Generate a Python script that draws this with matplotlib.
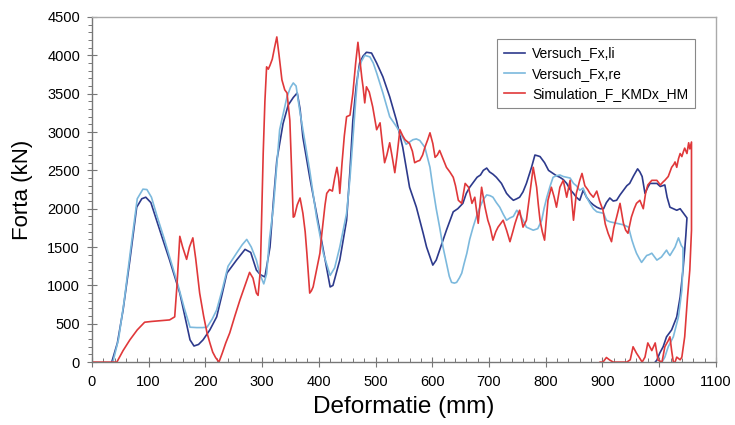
import matplotlib
matplotlib.use("Agg")
import matplotlib.pyplot as plt
from matplotlib.ticker import MultipleLocator

plt.rcParams['font.family'] = ['Liberation Sans', 'DejaVu Sans']

li_x = [35,45,55,67,79,88,95,104,114,125,137,155,165,173,180,188,196,208,220,230,238,255,270,280,290,297,305,314,320,326,337,346,355,362,367,372,384,396,408,420,425,437,449,455,460,466,472,478,484,493,502,513,525,537,548,560,572,584,590,596,601,607,613,625,637,645,654,660,666,679,685,690,696,701,707,713,722,731,737,743,749,754,760,766,775,781,786,790,798,805,813,819,825,831,837,843,849,854,860,866,872,878,884,890,896,902,907,913,919,925,931,937,943,948,955,962,966,970,975,980,984,990,996,1002,1006,1010,1014,1019,1025,1031,1037,1041,1045,1049,1047,1045,1042,1037,1031,1022,1013,1007,1001,996,993]
li_y = [0,250,680,1330,2020,2130,2150,2080,1850,1600,1330,900,560,290,210,230,290,420,590,900,1160,1330,1470,1430,1200,1140,1110,1500,2100,2630,3110,3350,3450,3510,3300,2930,2410,1940,1460,980,1000,1330,1850,2500,3150,3600,3900,3990,4040,4030,3900,3720,3460,3150,2800,2280,2020,1680,1500,1370,1265,1330,1460,1720,1960,2000,2070,2200,2280,2410,2440,2500,2530,2480,2450,2410,2330,2200,2150,2110,2130,2150,2220,2330,2540,2700,2690,2680,2600,2500,2460,2430,2410,2380,2330,2250,2200,2150,2110,2240,2150,2090,2050,2020,2000,2000,2080,2140,2100,2110,2180,2240,2300,2330,2430,2520,2480,2420,2200,2280,2330,2330,2330,2290,2300,2310,2150,2020,2000,1980,2000,1960,1920,1880,1650,1460,1200,850,590,420,330,200,117,26,0]

re_x = [37,47,57,68,80,90,97,105,115,127,140,152,163,173,185,195,203,212,220,230,240,255,265,273,281,290,296,303,308,313,320,331,344,350,355,360,366,372,384,396,408,420,428,437,449,455,460,465,469,475,481,490,496,502,513,525,537,548,554,560,566,572,578,587,596,601,607,613,619,625,630,634,639,643,648,652,656,661,666,672,678,684,690,696,702,707,713,719,725,731,737,743,749,755,760,766,772,778,786,793,797,802,808,813,819,825,831,837,843,849,854,860,866,872,878,884,890,896,902,907,913,919,925,931,937,946,952,956,960,965,969,974,978,982,987,992,996,1000,1004,1009,1013,1016,1019,1024,1028,1031,1034,1037,1039,1042,1042,1040,1034,1025,1016,1010,1005]
re_y = [0,300,800,1450,2130,2255,2250,2150,1900,1620,1300,1000,700,455,450,450,455,560,680,950,1250,1420,1530,1600,1500,1330,1150,1020,1150,1600,2020,3030,3460,3580,3640,3600,3300,3030,2500,1890,1420,1130,1230,1500,1940,2400,2900,3400,3770,3920,4000,3980,3900,3770,3510,3200,3070,2930,2840,2870,2900,2910,2890,2800,2540,2280,2000,1760,1500,1290,1120,1040,1030,1040,1100,1160,1280,1420,1600,1760,1900,2020,2120,2180,2170,2150,2080,2020,1930,1850,1880,1900,1980,1920,1850,1760,1740,1720,1740,1850,2000,2150,2300,2410,2430,2440,2420,2410,2400,2330,2300,2240,2270,2150,2070,2000,1960,1950,1940,1850,1830,1820,1810,1800,1790,1760,1590,1500,1420,1350,1300,1350,1390,1400,1420,1370,1330,1350,1370,1420,1460,1420,1390,1450,1500,1560,1620,1560,1520,1490,1290,940,590,330,200,65,0]

sim_x = [0,20,44,55,67,80,93,105,120,137,146,150,155,160,167,172,178,183,190,197,203,208,213,218,224,230,236,243,252,261,270,278,284,290,293,297,302,305,308,311,314,318,322,326,330,335,340,344,349,352,355,357,362,367,372,376,379,382,384,387,390,396,402,405,408,411,414,419,424,428,432,435,437,441,445,449,455,460,465,469,473,476,478,481,484,489,495,502,508,512,516,520,525,530,534,538,543,548,552,560,565,569,574,578,583,587,592,596,601,605,609,613,619,625,631,637,641,646,652,658,664,670,675,681,687,693,698,702,707,712,716,720,725,731,737,742,746,750,754,760,766,772,778,784,787,790,794,798,804,810,815,819,825,831,837,843,846,849,854,860,864,869,874,878,884,890,895,901,905,910,916,920,925,931,937,941,945,951,956,960,966,972,976,980,987,996,1002,1007,1010,1016,1019,1022,1026,1028,1031,1034,1037,1040,1043,1045,1049,1052,1054,1057,1057,1054,1050,1045,1040,1037,1031,1028,1025,1022,1019,1016,1010,1005,998,993,987,980,975,970,965,960,954,949,943,930,919,913,907,901,896]
sim_y = [0,0,0,150,290,420,520,530,540,550,590,1000,1640,1500,1340,1500,1620,1350,900,600,380,250,130,60,0,120,250,380,600,810,1000,1170,1095,900,870,1200,2720,3400,3850,3820,3870,3950,4100,4240,4000,3680,3550,3510,3150,2500,1890,1900,2050,2140,1940,1700,1420,1100,900,930,980,1200,1420,1650,1850,2050,2200,2250,2230,2400,2540,2400,2200,2600,2950,3200,3220,3500,3900,4170,3900,3700,3590,3380,3590,3520,3330,3030,3120,2850,2600,2700,2860,2650,2470,2700,3030,2950,2900,2850,2750,2600,2620,2630,2700,2800,2900,2990,2850,2670,2700,2760,2650,2540,2480,2410,2300,2110,2070,2330,2280,2070,2150,1810,2280,2020,1850,1760,1590,1700,1760,1800,1850,1720,1570,1700,1810,1900,1980,1760,1850,2200,2540,2280,2050,1850,1700,1590,2110,2280,2150,2020,2280,2370,2150,2370,2100,1850,2200,2370,2460,2300,2250,2200,2150,2230,2100,1980,1800,1680,1570,1750,1890,2070,1810,1720,1680,1890,2000,2070,2110,2000,2200,2310,2370,2370,2310,2350,2370,2420,2480,2540,2580,2610,2540,2650,2720,2680,2750,2790,2720,2860,2780,2870,1720,1200,850,330,65,30,65,0,0,150,330,280,200,0,26,250,150,250,65,0,60,117,200,30,0,0,0,26,60,0,0]

series_labels = ['Versuch_Fx,li', 'Versuch_Fx,re', 'Simulation_F_KMDx_HM']
series_colors = ['#2d3a8c', '#7cb9dd', '#e0383a']
x_ticks = list(range(0, 1101, 100))
y_ticks = list(range(0, 4501, 500))

fig = plt.figure(figsize=(7.35, 4.25), dpi=100)
ax = fig.add_axes([0.125, 0.148, 0.849, 0.812])

ax.plot(li_x, li_y, color=series_colors[0], lw=1.2, label=series_labels[0])
ax.plot(re_x, re_y, color=series_colors[1], lw=1.2, label=series_labels[1])
ax.plot(sim_x, sim_y, color=series_colors[2], lw=1.2, label=series_labels[2])

ax.set_xlim(0, 1100)
ax.set_ylim(0, 4500)
ax.set_xticks(x_ticks)
ax.set_yticks(y_ticks)
ax.xaxis.set_minor_locator(MultipleLocator(20))
ax.yaxis.set_minor_locator(MultipleLocator(100))
ax.tick_params(axis='both', which='major', direction='inout', length=7, width=0.8,
               color='#777777', labelsize=10.5, labelcolor='black')
ax.tick_params(axis='x', which='major', pad=6)
ax.tick_params(axis='y', which='major', pad=5)
ax.tick_params(axis='x', which='minor', direction='in', length=3, width=0.7, color='#777777')
ax.tick_params(axis='y', which='minor', direction='out', length=3, width=0.7, color='#777777')
for s in ['left', 'bottom']:
    ax.spines[s].set_color('#777777')
    ax.spines[s].set_linewidth(1.0)
for s in ['top', 'right']:
    ax.spines[s].set_color('#aaaaaa')
    ax.spines[s].set_linewidth(1.0)

ax.set_xlabel('Deformatie (mm)', fontsize=17.5, labelpad=5)
ax.set_ylabel('Forta (kN)', fontsize=16, labelpad=10)

leg = ax.legend(loc='upper right', bbox_to_anchor=(0.978, 0.955), fontsize=10,
                fancybox=False, framealpha=1, edgecolor='#888888',
                handlelength=1.5, handletextpad=0.5, borderpad=0.5, labelspacing=0.45)
leg.get_frame().set_linewidth(0.8)

fig.savefig('out.png', dpi=100)
